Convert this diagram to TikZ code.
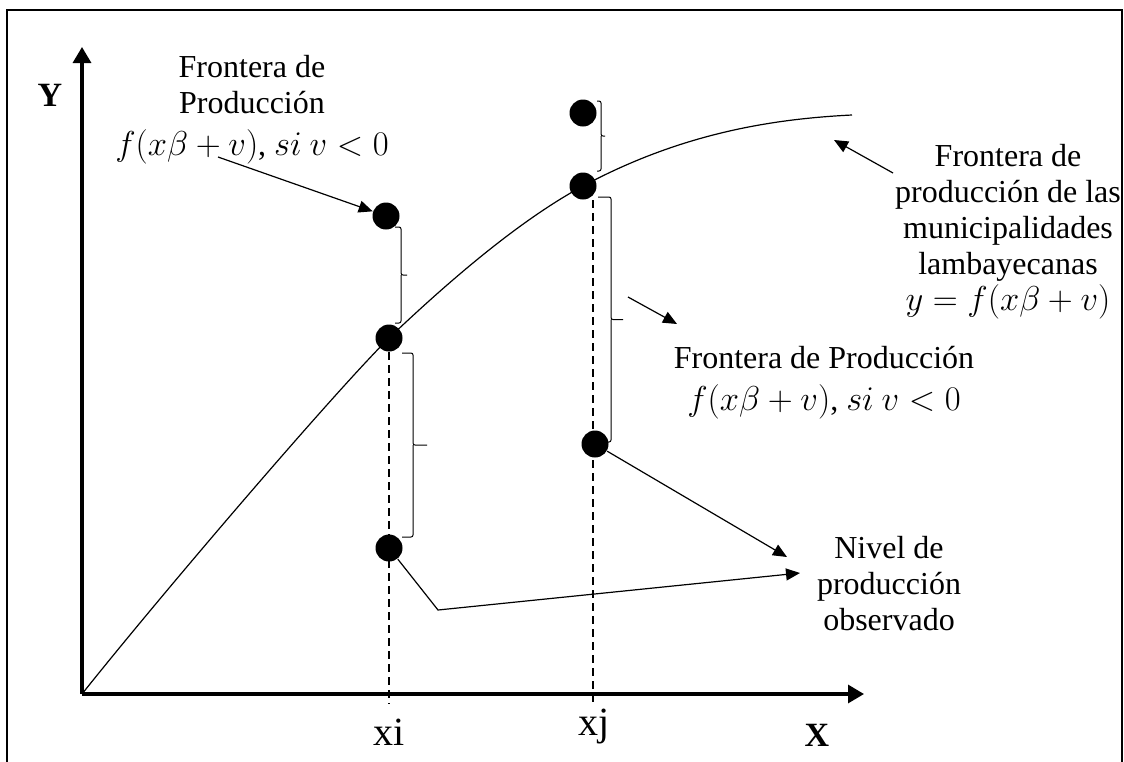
\documentclass[tikz,border=0pt]{standalone}
\usepackage{fontspec}
\setmainfont{Liberation Serif}
\usetikzlibrary{arrows.meta, positioning, calc}

% llave recta: x gancho, x linea, x punta, y arriba, y abajo
\newcommand{\llave}[5]{%
  \draw[llavestilo] (#1,#4) -- (#2,#4) -- (#2,{(#4+#5)/2}) -- (#3,{(#4+#5)/2})
    (#2,{(#4+#5)/2}) -- (#2,#5) -- (#1,#5);}

\begin{document}
\begin{tikzpicture}[x=0.5pt, y=-0.5pt, >={Triangle[length=7pt,width=6pt]}, line width=0.6pt]
        % Estilos
        \tikzstyle{punto} = [circle, fill=black, inner sep=0pt, minimum size=13.5pt]
        \tikzstyle{texto} = [align=center, font=\fontsize{16}{18}\selectfont, inner sep=0pt]
        \tikzstyle{eje} = [line width=1.6pt, -{Triangle[length=8pt,width=9pt]}]
        \tikzstyle{guia} = [line width=0.8pt, dash pattern=on 4pt off 2.5pt]
        \tikzstyle{flecha} = [->]
        \tikzstyle{llavestilo} = [line width=0.5pt, rounded corners=1pt]
        \tikzstyle{rotulo} = [font=\bfseries\fontsize{17}{17}\selectfont]
        \tikzstyle{marca} = [font=\fontsize{20}{20}\selectfont]

        \useasboundingbox (0,0) rectangle (1124,761);

        % Marco
        \draw[line width=0.8pt] (7,780) -- (7,10) -- (1122,10) -- (1122,780);

        % --- EJES ---
        \coordinate (O) at (82,694);
        \coordinate (ytop) at (82,47);
        \coordinate (xend) at (864,694);
        \draw[eje] (O) -- (ytop);
        \draw[eje] (O) -- (xend);
        \node[rotulo] (ylab) at (50,95) {Y};
        \node[rotulo] (xlab) at (817,735) {X};
        \node[marca] (xi) at (389,732) {xi};
        \node[marca] (xj) at (594,727) {xj};

        % --- FRONTERA ---
        \coordinate (f_fin) at (852,115);
        \draw (O) .. controls (160,596) and (330,397) .. (389,338)
                  .. controls (450,280) and (520,220) .. (583,186)
                  .. controls (680,134) and (770,119) .. (f_fin);

        % --- PUNTOS ---
        \node[punto] (sup_i) at (386,216) {};
        \node[punto] (cur_i) at (389,338) {};
        \node[punto] (obs_i) at (389,548) {};
        \node[punto] (sup_j) at (583,113) {};
        \node[punto] (cur_j) at (583,186) {};
        \node[punto] (obs_j) at (595,444) {};

        % Guias punteadas
        \coordinate (base_i) at (389,704);
        \coordinate (base_j) at (593,704);
        \draw[guia] (cur_i) -- (base_i);
        \draw[guia] (cur_j.south -| base_j) -- (base_j);

        % Llaves
        \llave{395}{401}{407}{227}{323}
        \llave{402}{413}{427}{353}{537}
        \llave{597}{601}{605}{101}{171}
        \llave{598}{611}{623}{197}{442}

        % --- TEXTOS ---
        \node[texto] (front_sup) at (252,110) {Frontera de\\Producción\\[3pt]$f(x\beta+v)$, $si\ v<0$};
        \node[texto] (front_mun) at (1008,232) {Frontera de\\producción de las\\municipalidades\\lambayecanas\\$y=f(x\beta+v)$};
        \node[texto] (front_inf) at (824,383) {Frontera de Producción\\[3pt]$f(x\beta+v)$, $si\ v<0$};
        \node[texto] (nivel) at (889,584) {Nivel de\\producción\\observado};

        % --- FLECHAS ---
        \coordinate (a_sup) at (218,157);
        \draw[flecha] (a_sup) -- (sup_i);
        \coordinate (a_mun) at (893,173);
        \coordinate (p_mun) at (834,140);
        \draw[flecha] (a_mun) -- (p_mun);
        \coordinate (a_inf) at (628,297);
        \coordinate (p_inf) at (677,324);
        \draw[flecha] (a_inf) -- (p_inf);
        \coordinate (p_obs_j) at (787,557);
        \draw[flecha] (obs_j) -- (p_obs_j);
        \coordinate (codo) at (438,610);
        \coordinate (p_obs_i) at (800,573);
        \draw[flecha] (obs_i) -- (codo) -- (p_obs_i);

    \end{tikzpicture}
\end{document}
